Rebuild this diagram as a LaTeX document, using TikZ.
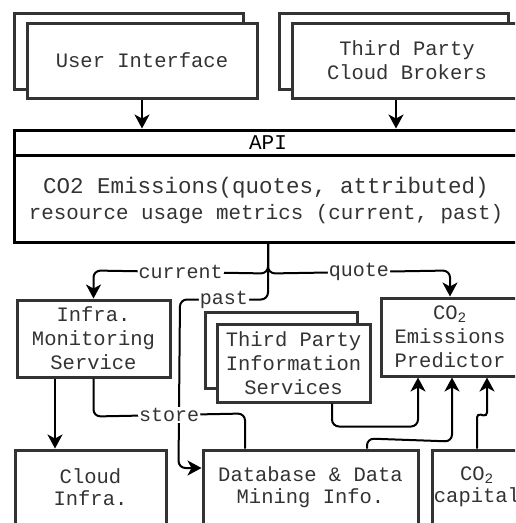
\documentclass[tikz,border=0pt]{standalone}
\usepackage{fontspec}
\setmainfont{Liberation Mono}
\usetikzlibrary{arrows.meta,calc}
\definecolor{bd}{HTML}{333333}
\begin{document}
\begin{tikzpicture}[x=1pt,y=-1pt,
  box/.style={draw=bd, line width=3pt, fill=white, text=bd, align=center, inner sep=0pt,
    font=\fontsize{20.5}{24}\selectfont},
  apibox/.style={draw=black, line width=3pt, fill=white, inner sep=0pt},
  txt/.style={text=bd, inner sep=0pt},
  arr/.style={draw=black, line width=2pt, rounded corners=7pt,
    -{Stealth[length=14pt,width=15pt,inset=4pt]}},
  ln/.style={draw=black, line width=2pt, rounded corners=7pt},
  lbl/.style={fill=white, text=bd, inner sep=1pt, font=\fontsize{20}{24}\selectfont}]
\useasboundingbox (0,0) rectangle (515,523);
\clip (0,0) rectangle (515,523);

% top boxes
\node[box, minimum width=229pt, minimum height=76pt] (uib) at (128.5,51) {};
\node[box, minimum width=230pt, minimum height=75pt] (ui) at (142,60.5) {User Interface};
\node[box, minimum width=229pt, minimum height=76pt] (cbb) at (393.5,51) {};
\node[box, minimum width=230pt, minimum height=75pt] (cb) at (407,60.5) {Third Party\\Cloud Brokers};

% API
\node[apibox, minimum width=508pt, minimum height=112pt] (api) at (268,186) {};
\node[apibox, minimum width=508pt, minimum height=25pt, anchor=north,
  font=\fontsize{21}{24}\selectfont] (apih) at (api.north) {API};
\node[txt, font=\fontsize{22.5}{26}\selectfont] (apil1) at (266,188) {CO2 Emissions(quotes, attributed)};
\node[txt, font=\fontsize{20.8}{26}\selectfont] (apil2) at (266,214) {resource usage metrics (current, past)};

% middle boxes
\node[box, minimum width=153pt, minimum height=77pt] (mon) at (93.5,338.5) {Infra.\\Monitoring\\Service};
\node[box, minimum width=152pt, minimum height=76pt] (tpb) at (281,350) {};
\node[box, minimum width=153pt, minimum height=78pt] (tp) at (293.5,363) {Third Party\\Information\\Services};
\node[box, minimum width=138pt, minimum height=78pt] (pred) at (450,337) {CO\textsubscript{2}\\Emissions\\Predictor};

% bottom boxes
\node[box, minimum width=151pt, minimum height=74pt, font=\fontsize{20.5}{22.5}\selectfont] (cloud) at (90.5,487) {Cloud\\Infra.};
\node[box, minimum width=215pt, minimum height=74pt, font=\fontsize{20.5}{22.5}\selectfont] (db) at (310.5,487) {Database \& Data\\Mining Info.};
\node[box, minimum width=90pt, minimum height=74pt, font=\fontsize{20.5}{22.5}\selectfont] (cap) at (477,487) {CO\textsubscript{2}\\capital};

% connectors
\draw[arr] (ui.south) -- (ui.south |- apih.north);
\draw[arr] ([xshift=-11pt]cb.south) -- ([xshift=-11pt]cb.south |- apih.north);

\draw[arr] (api.south) -- ++(0,30) -- node[lbl]{current} ($(mon.north)+(0,-28)$) -- (mon.north);
\draw[arr] (api.south) -- ++(0,30) -- node[lbl]{quote} ($(pred.north)+(0,-26)$) -- (pred.north);
\draw[arr] (api.south) -- ++(0,56) -- node[lbl]{past} ++(-88,0) -- ([xshift=-23pt,yshift=19pt]db.west) -- ([yshift=19pt]db.west);

\draw[arr] ([xshift=-38.5pt]mon.south) -- ([xshift=-38.5pt]mon.south |- cloud.north);
\draw[ln] (mon.south) -- ++(0,38) -- node[lbl]{store} ([xshift=-65.5pt,yshift=35pt]db.north) -- ([xshift=-65.5pt]db.north);

\draw[arr] ([xshift=38.5pt]tp.south) -- ++(0,23) -- ([xshift=-32pt,yshift=-49pt]pred.south) -- ([xshift=-32pt]pred.south);
\draw[arr] ([xshift=56.5pt]db.north) -- ++(0,-10) -- ([xshift=2pt,yshift=-64pt]pred.south) -- ([xshift=2pt]pred.south);
\draw[arr, rounded corners=4pt] (cap.north) -- ++(0,-35) -- ([xshift=37pt,yshift=-39pt]pred.south) -- ([xshift=37pt]pred.south);
\end{tikzpicture}
\end{document}
